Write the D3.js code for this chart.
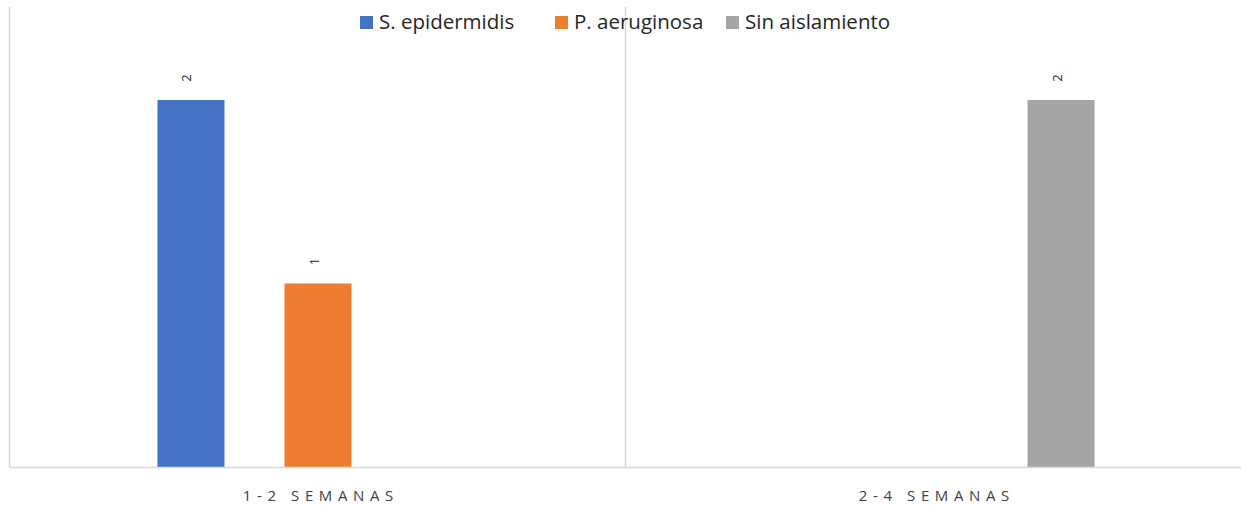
<!DOCTYPE html>
<html>
<head>
<meta charset="utf-8">
<script src="https://cdn.jsdelivr.net/npm/d3@7"></script>
<style>
  html, body { margin: 0; padding: 0; background: #fff; }
  svg { display: block; }
</style>
</head>
<body>
<svg id="chart" width="1241" height="506"></svg>
<script>
// Categories and series (null = no bar for that group)
const categories = ["1-2 SEMANAS", "2-4 SEMANAS"];
const seriesNames = ["S. epidermidis", "P. aeruginosa", "Sin aislamiento"];
const seriesColors = ["#4472C4", "#ED7D31", "#A5A5A5"];
const epidermidis = [2, null];
const aeruginosa = [1, null];
const sinAislamiento = [null, 2];
const yMax = 2;

const seriesValues = [epidermidis, aeruginosa, sinAislamiento];

const W = 1241, H = 506;
const svg = d3.select("#chart");

const plotLeft = 10, plotRight = 1242;
const plotTop = 7, plotBottom = 467;
const FONT = "'Open Sans', Lato, sans-serif";

const x0 = d3.scaleBand().domain(categories).range([plotLeft, plotRight]).padding(0);
const x1 = d3.scaleBand().domain(seriesNames).range([0, x0.bandwidth()])
  .paddingInner(0.4724).paddingOuter(1.161);
const y = d3.scaleLinear().domain([0, yMax]).range([plotBottom, plotBottom - 367]);

const gridColor = "#D9D9D9";

// Category separators (left edge and between groups)
categories.forEach(c => {
  svg.append("line")
    .attr("x1", x0(c) - 0.5).attr("x2", x0(c) - 0.5)
    .attr("y1", plotTop).attr("y2", plotBottom)
    .attr("stroke", gridColor).attr("stroke-width", 1.5);
});

// Bars
seriesNames.forEach((s, si) => {
  const vals = seriesValues[si];
  categories.forEach((c, ci) => {
    const v = vals[ci];
    if (v == null) return;
    svg.append("rect")
      .attr("x", x0(c) + x1(s))
      .attr("y", y(v))
      .attr("width", x1.bandwidth())
      .attr("height", y(0) - y(v))
      .attr("fill", seriesColors[si]);
    // Rotated value label
    const cx = x0(c) + x1(s) + x1.bandwidth() / 2;
    svg.append("text")
      .attr("transform", `translate(${cx + 0.5},${y(v) - 22}) rotate(-90)`)
      .attr("text-anchor", "middle")
      .attr("font-family", FONT)
      .attr("font-size", 13)
      .attr("fill", "#262626")
      .text(v);
  });
});

// Baseline
svg.append("line")
  .attr("x1", plotLeft - 1).attr("x2", plotRight)
  .attr("y1", plotBottom + 0.5).attr("y2", plotBottom + 0.5)
  .attr("stroke", gridColor).attr("stroke-width", 1.5);

// Category labels (letter-spaced)
const spacing = 5.6;
const xAxis = d3.axisBottom(x0).tickSize(0);
const gx = svg.append("g").attr("transform", `translate(0,${plotBottom})`).call(xAxis);
gx.select(".domain").remove();
gx.selectAll("text")
  .attr("x", spacing / 2)
  .attr("y", 34).attr("dy", 0)
  .attr("font-family", FONT)
  .attr("font-size", 15)
  .attr("letter-spacing", spacing + "px")
  .attr("fill", "#404040");

// Legend
const legendItems = [
  { name: seriesNames[0], color: seriesColors[0], x: 360 },
  { name: seriesNames[1], color: seriesColors[1], x: 555 },
  { name: seriesNames[2], color: seriesColors[2], x: 726 }
];
const lg = svg.append("g");
legendItems.forEach(d => {
  lg.append("rect").attr("x", d.x).attr("y", 16).attr("width", 13).attr("height", 13).attr("fill", d.color);
  lg.append("text")
    .attr("x", d.x + 19).attr("y", 29)
    .attr("font-family", FONT)
    .attr("font-size", 20.5)
    .attr("fill", "#262626")
    .text(d.name);
});
</script>
</body>
</html>
